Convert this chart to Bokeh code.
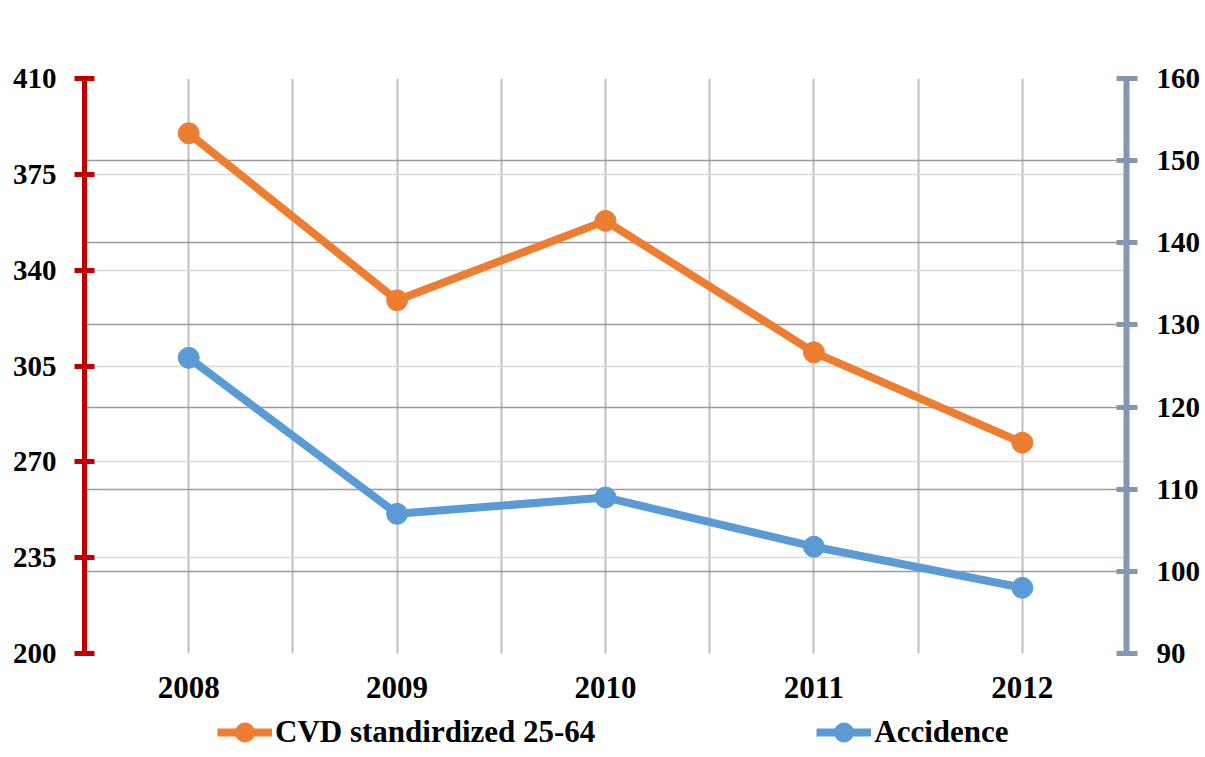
from bokeh.plotting import figure
from bokeh.layouts import column
from bokeh.models import (Range1d, LinearAxis, FixedTicker, Grid, Legend, LegendItem,
                          ColumnDataSource)
from bokeh.embed import file_html
from bokeh.resources import INLINE

years = ["2008", "2009", "2010", "2011", "2012"]
cvd = [390, 329, 358, 310, 277]
accidence = [126, 107, 109, 103, 98]
left_ticks = [200, 235, 270, 305, 340, 375, 410]
right_ticks = [90, 100, 110, 120, 130, 140, 150, 160]
series_names = ["CVD standirdized 25-64", "Accidence"]

xpos = [i + 0.5 for i in range(len(years))]
src = ColumnDataSource(dict(x=xpos, cvd=cvd, acc=accidence))

FONT = "Liberation Serif"
FS_X = "31px"
FS_Y = "29px"
ORANGE = "#ED7D31"
BLUE = "#5B9BD5"

p = figure(width=1203, height=708, output_backend="svg", toolbar_location=None,
           x_range=Range1d(0, len(years)), y_range=Range1d(left_ticks[0], left_ticks[-1]),
           min_border_left=84, min_border_right=73, min_border_top=78, min_border_bottom=55)
p.outline_line_color = None
p.background_fill_color = "white"
p.border_fill_color = "white"

p.extra_y_ranges = {"right": Range1d(right_ticks[0], right_ticks[-1])}

# x axis
xa = p.xaxis[0]
xa.ticker = FixedTicker(ticks=xpos)
xa.major_label_overrides = {x: y for x, y in zip(xpos, years)}
xa.axis_line_color = None
xa.major_tick_line_color = None
xa.minor_tick_line_color = None
xa.major_label_standoff = 17
xa.major_label_text_font = FONT
xa.major_label_text_font_style = "bold"
xa.major_label_text_font_size = FS_X
xa.major_label_text_color = "black"

# left axis
ya = p.yaxis[0]
ya.ticker = FixedTicker(ticks=left_ticks)
ya.axis_line_color = "#C00000"
ya.axis_line_width = 5
ya.major_tick_line_color = "#C00000"
ya.major_tick_line_width = 5
ya.major_tick_in = 10
ya.major_tick_out = 10
ya.minor_tick_line_color = None
ya.major_label_standoff = 18
ya.major_label_text_font = FONT
ya.major_label_text_font_style = "bold"
ya.major_label_text_font_size = FS_Y
ya.major_label_text_color = "black"

# right axis
ra = LinearAxis(y_range_name="right", ticker=FixedTicker(ticks=right_ticks))
ra.axis_line_color = "#8497B0"
ra.axis_line_width = 6
ra.major_tick_line_color = "#8497B0"
ra.major_tick_line_width = 5
ra.major_tick_in = 10
ra.major_tick_out = 11
ra.minor_tick_line_color = None
ra.major_label_standoff = 19
ra.major_label_text_font = FONT
ra.major_label_text_font_style = "bold"
ra.major_label_text_font_size = FS_Y
ra.major_label_text_color = "black"
p.add_layout(ra, "right")

# grids
p.xgrid.ticker = FixedTicker(ticks=[i * 0.5 for i in range(2 * len(years) + 1)])
p.xgrid.grid_line_color = "#BFBFBF"
p.xgrid.grid_line_width = 2
p.ygrid.ticker = FixedTicker(ticks=left_ticks)
p.ygrid.grid_line_color = "#D9D9D9"
p.ygrid.grid_line_width = 1.5
rgrid = Grid(dimension=1, y_range_name="right", ticker=FixedTicker(ticks=right_ticks),
             grid_line_color="#9A9A9A", grid_line_width=1.5)
p.add_layout(rgrid)

# series
p.line("x", "cvd", source=src, line_color=ORANGE, line_width=8)
p.scatter("x", "cvd", source=src, size=21, fill_color=ORANGE, line_color=ORANGE)
p.line("x", "acc", source=src, line_color=BLUE, line_width=8, y_range_name="right")
p.scatter("x", "acc", source=src, size=21, fill_color=BLUE, line_color=BLUE,
          y_range_name="right")

# legend strip (same series, drawn outside its visible range so only the legend shows)
lg = figure(width=1203, height=48, output_backend="svg", toolbar_location=None,
            x_axis_type=None, y_axis_type=None,
            x_range=Range1d(100, 101), y_range=Range1d(10000, 10001),
            min_border_left=0, min_border_right=0, min_border_top=0, min_border_bottom=0)
lg.outline_line_color = None
lg.xgrid.visible = False
lg.ygrid.visible = False
r1 = lg.line("x", "cvd", source=src, line_color=ORANGE, line_width=8)
r2 = lg.scatter("x", "cvd", source=src, size=21, fill_color=ORANGE, line_color=ORANGE)
r3 = lg.line("x", "acc", source=src, line_color=BLUE, line_width=8)
r4 = lg.scatter("x", "acc", source=src, size=21, fill_color=BLUE, line_color=BLUE)

legend = Legend(items=[LegendItem(label=series_names[0], renderers=[r1, r2]),
                       LegendItem(label=series_names[1], renderers=[r3, r4])],
                orientation="horizontal", location=(133, 0),
                padding=0, margin=0, spacing=221, label_standoff=3,
                glyph_width=55, glyph_height=48,
                border_line_color=None, background_fill_alpha=0,
                label_text_font=FONT, label_text_font_style="bold",
                label_text_font_size=FS_X, label_text_color="black")
lg.add_layout(legend)

open("out.html", "w").write(file_html(column(p, lg), INLINE))
